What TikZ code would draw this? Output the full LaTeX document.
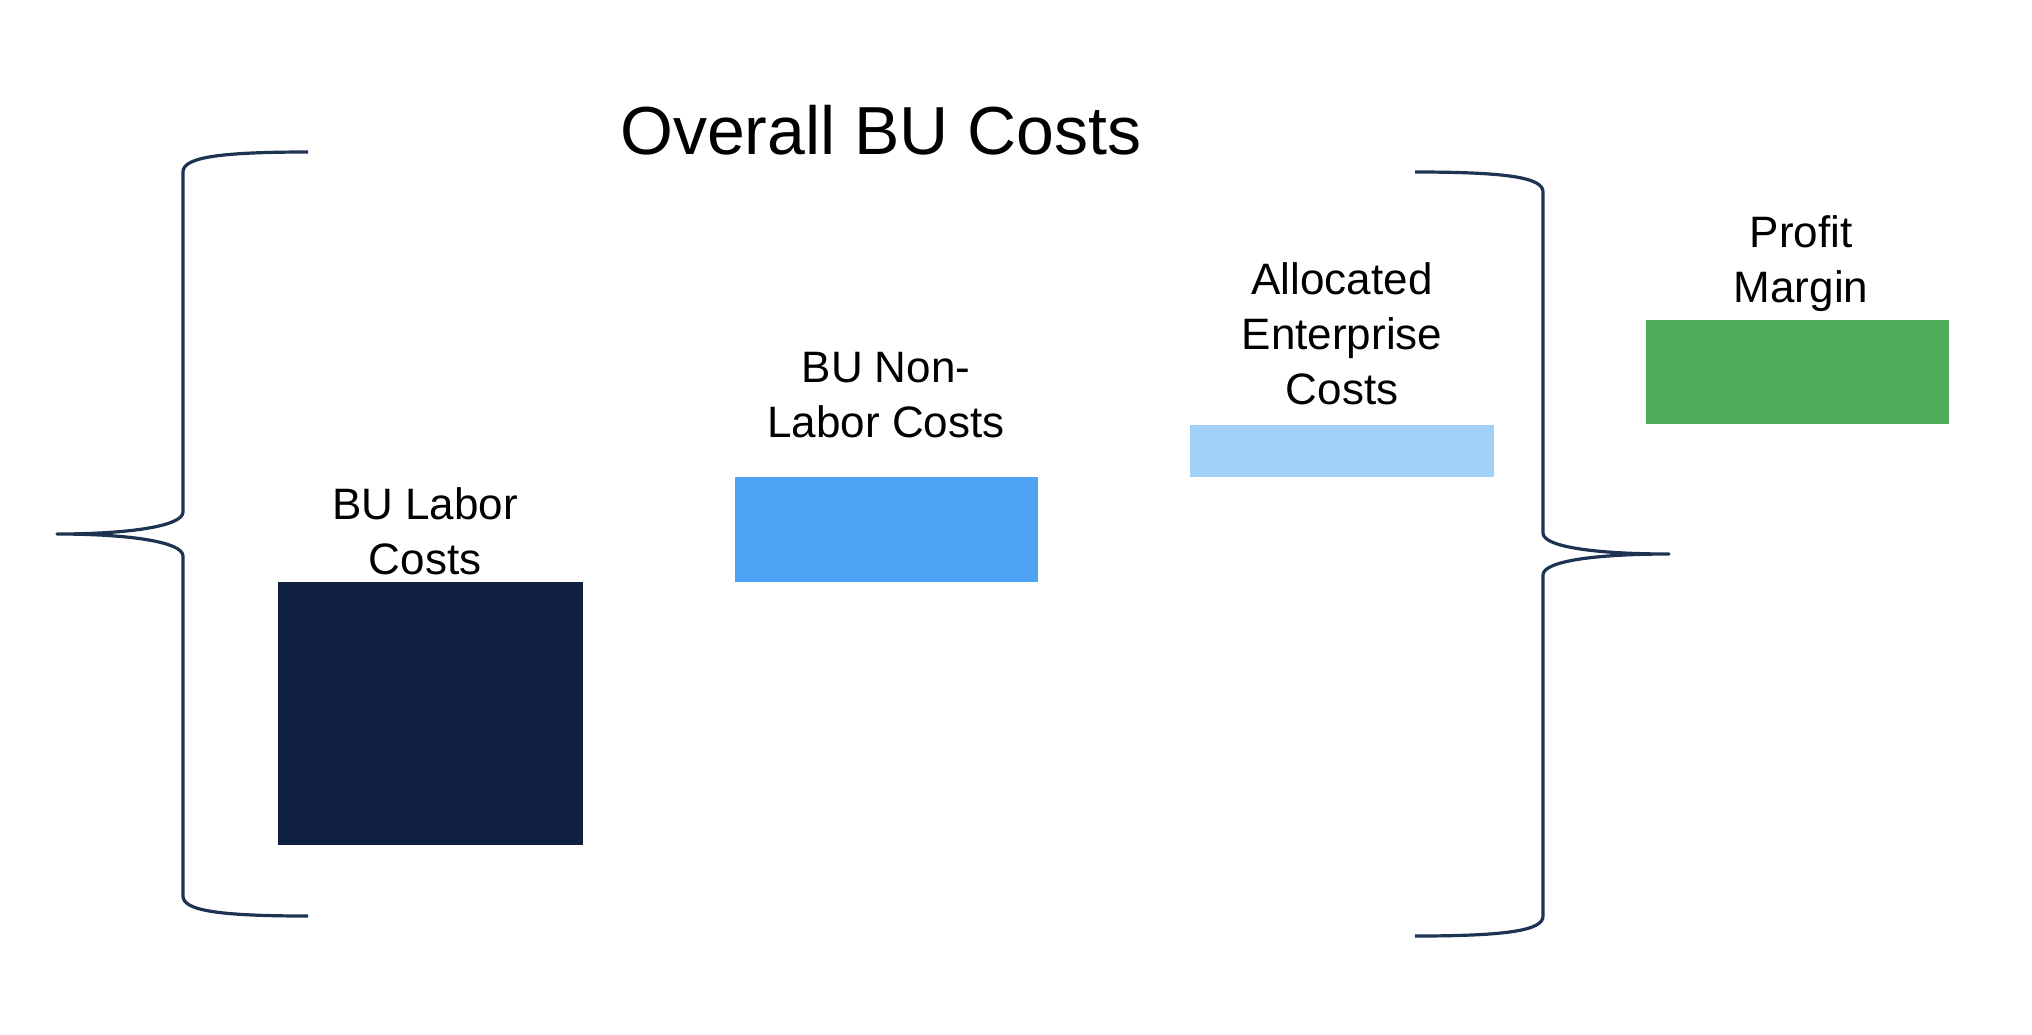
\documentclass[tikz,border=0pt]{standalone}
\usepackage{fontspec}
\setmainfont{Liberation Sans}
\definecolor{navy}{RGB}{15,31,64}
\definecolor{midblue}{RGB}{78,163,245}
\definecolor{lightblue}{RGB}{161,209,248}
\definecolor{green}{RGB}{79,172,91}
\definecolor{bracecol}{RGB}{28,52,82}
\begin{document}
\begin{tikzpicture}[x=0.5pt,y=-0.5pt,
  bar/.style={draw=none,inner sep=0pt,outer sep=0pt},
  lbl/.style={anchor=base,align=center,inner sep=0pt,font=\fontsize{22}{27.5}\selectfont},
  brace/.style={draw=bracecol,line width=1.6pt,line join=round}]
\useasboundingbox[fill=white] (0,0) rectangle (2032,1034);
% title
\node[anchor=base,inner sep=0pt,font=\fontsize{34}{40}\selectfont] (title) at (881,154) {Overall BU Costs};
% bars
\node[bar,fill=navy,minimum width=152.5pt,minimum height=131.5pt] (labor) at (430.5,713.5) {};
\node[bar,fill=midblue,minimum width=151.5pt,minimum height=52.5pt] (nonlabor) at (886.5,529.5) {};
\node[bar,fill=lightblue,minimum width=152pt,minimum height=26pt] (alloc) at (1342,451) {};
\node[bar,fill=green,minimum width=151.5pt,minimum height=52pt] (profit) at (1797.5,372) {};
% labels
\node[lbl] (laborlbl) at (425,574) {BU Labor\\Costs};
\node[lbl] (nonlaborlbl) at (886,437) {BU Non-\\Labor Costs};
\node[lbl] (alloclbl) at (1342,404) {Allocated\\Enterprise\\Costs};
\node[lbl] (profitlbl) at (1801,302) {Profit\\Margin};
% left brace
\draw[brace] (308,152) .. controls (215,152) and (183,158) .. (183,172) -- (183,512)
  .. controls (183,526) and (130,534) .. (57,534)
  .. controls (130,534) and (183,542) .. (183,556) -- (183,896)
  .. controls (183,910) and (215,916) .. (308,916);
% right brace
\draw[brace] (1415,172) .. controls (1510,172) and (1543,178) .. (1543,192) -- (1543,533)
  .. controls (1543,547) and (1596,554) .. (1669,554)
  .. controls (1596,554) and (1543,561) .. (1543,575) -- (1543,916)
  .. controls (1543,930) and (1510,936) .. (1415,936);
\end{tikzpicture}
\end{document}
